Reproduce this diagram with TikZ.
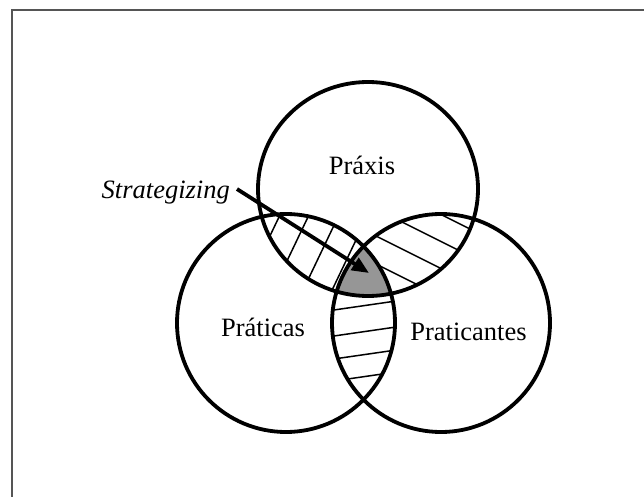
\documentclass[tikz,border=0pt]{standalone}
\usepackage{fontspec}
\setmainfont{Liberation Serif}
\usetikzlibrary{arrows.meta}
\definecolor{framegray}{RGB}{85,85,85}
\definecolor{coregray}{RGB}{150,150,150}
\tikzset{
  ring/.style={line width=3.8pt},
  hatch/.style={line width=1.5pt},
  lbl/.style={inner sep=0pt, font=\fontsize{26.5}{30}\selectfont},
}
\begin{document}
\begin{tikzpicture}[x=1pt, y=-1pt]
\useasboundingbox (0,0) rectangle (644,497);
\clip (0,0) rectangle (644,497);
\draw[framegray, line width=2pt] (12,10) rectangle (700,560);
\coordinate (cPraxis) at (368,189);
\coordinate (cPraticas) at (286,323);
\coordinate (cPraticantes) at (441,323);
\coordinate (core) at (369,273);
\begin{scope}
\clip (cPraxis) ellipse [x radius=110, y radius=107];
\clip (cPraticas) circle [radius=109];
\foreach \a in {263,292,322,351}
  \draw[hatch] ({\a+48},150) -- ({\a-38},330);
\end{scope}
\begin{scope}
\clip (cPraxis) ellipse [x radius=110, y radius=107];
\clip (cPraticantes) circle [radius=109];
\foreach \b in {204,231,258,286}
  \draw[hatch] (340,{\b-40}) -- (500,{\b+40});
\end{scope}
\begin{scope}
\clip (cPraticas) circle [radius=109];
\clip (cPraticantes) circle [radius=109];
\foreach \c in {306,332,355,377}
  \draw[hatch] (320,{\c+6}) -- (410,{\c-7});
\end{scope}
\begin{scope}
\clip (cPraxis) ellipse [x radius=110, y radius=107];
\clip (cPraticas) circle [radius=109];
\fill[coregray] (cPraticantes) circle [radius=109];
\end{scope}
\draw[ring] (cPraxis) ellipse [x radius=110, y radius=107];
\draw[ring] (cPraticas) circle [radius=109];
\draw[ring] (cPraticantes) circle [radius=109];
\node[lbl, anchor=base] (praxis) at (362,175) {Práxis};
\node[lbl, anchor=base] (praticas) at (263,336) {Práticas};
\node[lbl, anchor=base] (praticantes) at (468.5,340) {Praticantes};
\node[lbl, anchor=base east, font=\fontsize{26.5}{30}\selectfont\itshape] (strat) at (230,198) {Strategizing};
\draw[line width=3.8pt, -{Triangle[length=17pt,width=14pt]}] ([xshift=7pt,yshift=3pt]strat.east) -- (core);
\end{tikzpicture}
\end{document}
